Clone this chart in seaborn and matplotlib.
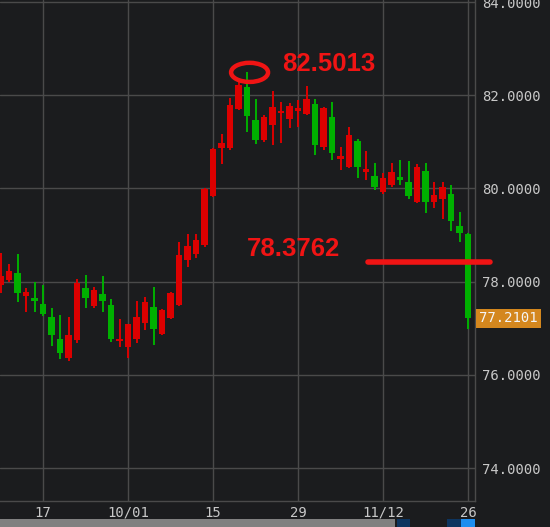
import pandas as pd
import seaborn as sns
import matplotlib.pyplot as plt
from matplotlib.patches import Ellipse, Rectangle

# daily candles, 2018-09-10 .. 2018-11-26 (weekdays)
dates = pd.bdate_range("2018-09-10", "2018-11-26")
opens = [77.93, 78.03, 78.19, 77.70, 77.64, 77.51, 77.23, 76.77, 76.35, 76.75,
         77.86, 77.48, 77.73, 77.50, 76.72, 76.60, 76.76, 77.12, 77.46, 76.88,
         77.21, 77.50, 78.46, 78.59, 78.79, 79.84, 80.86, 80.86, 81.70, 82.18,
         81.47, 81.04, 81.36, 81.61, 81.48, 81.67, 81.60, 81.81, 80.89, 81.54,
         80.64, 80.45, 81.02, 80.36, 80.27, 79.93, 80.07, 80.25, 80.14, 79.71,
         80.38, 79.71, 79.77, 79.88, 79.19, 79.02]
highs = [78.61, 78.38, 78.59, 77.86, 78.00, 77.93, 77.44, 77.28, 77.24, 78.05,
         78.14, 77.89, 78.11, 77.63, 77.19, 77.10, 77.59, 77.68, 77.89, 77.42,
         77.78, 78.86, 79.02, 79.02, 80.01, 80.87, 81.17, 81.93, 82.28, 82.5013,
         81.91, 81.58, 82.08, 81.86, 81.83, 81.90, 82.20, 81.91, 81.75, 81.86,
         80.89, 81.32, 81.07, 80.81, 80.54, 80.32, 80.54, 80.62, 80.59, 80.52,
         80.54, 80.14, 80.14, 80.07, 79.50, 79.05]
lows = [77.76, 77.99, 77.57, 77.35, 77.35, 77.26, 76.62, 76.34, 76.30, 76.68,
        77.43, 77.43, 77.35, 76.71, 76.59, 76.35, 76.68, 76.96, 76.64, 76.85,
        77.19, 77.48, 78.31, 78.51, 78.74, 79.82, 80.52, 80.82, 81.68, 81.22,
        80.95, 81.00, 80.93, 80.98, 81.29, 81.32, 81.58, 80.72, 80.82, 80.61,
        80.39, 80.43, 80.22, 80.18, 79.97, 79.89, 80.04, 80.07, 79.77, 79.69,
        79.48, 79.57, 79.34, 79.09, 78.86, 76.98]
closes = [78.12, 78.23, 77.76, 77.78, 77.59, 77.30, 76.85, 76.46, 76.85, 77.98,
          77.64, 77.82, 77.59, 76.76, 76.76, 77.08, 77.23, 77.57, 76.99, 77.39,
          77.75, 78.57, 78.76, 78.89, 79.98, 80.84, 80.98, 81.79, 82.22, 81.55,
          81.04, 81.53, 81.74, 81.65, 81.77, 81.72, 81.91, 80.93, 81.72, 80.77,
          80.68, 81.15, 80.45, 80.41, 80.02, 80.22, 80.36, 80.17, 79.84, 80.45,
          79.71, 79.86, 80.02, 79.29, 79.04, 77.2101]

tick_pos = [5, 15, 25, 35, 45, 55]
tick_labels = ["17", "10/01", "15", "29", "11/12", "26"]
y_ticks = [74, 76, 78, 80, 82, 84]
peak_value = 82.5013
mark_value = 78.3762
mark_level = 78.42
last_value = 77.2101

df = pd.DataFrame({"date": dates, "open": opens, "high": highs,
                   "low": lows, "close": closes})
df["x"] = range(len(df))
df["up"] = df["close"] >= df["open"]
df["bottom"] = df[["open", "close"]].min(axis=1)
df["height"] = (df["close"] - df["open"]).abs().clip(lower=0.045)

bg = "#1b1c1e"
sns.set_style("dark", {"axes.facecolor": bg, "figure.facecolor": bg,
                       "grid.color": "#4a4a4a"})
plt.rcParams["font.family"] = ["DejaVu Sans Mono"]

red, green = "#dc0000", "#00b000"
colors = [red if u else green for u in df["up"]]

fig = plt.figure(figsize=(5.5, 5.27), dpi=100)
ax = fig.add_axes([0, 26 / 527, 475 / 550, 501 / 527])

ax.vlines(df["x"], df["low"], df["high"], colors=colors, lw=1.4, zorder=2)
ax.bar(df["x"], df["height"], bottom=df["bottom"], width=0.8,
       color=colors, linewidth=0, zorder=3)

ax.set_xlim(-0.06, 55.82)
ax.set_ylim(73.292, 84.043)
ax.set_xticks(tick_pos)
ax.set_xticklabels(tick_labels)
ax.set_yticks(y_ticks)
ax.set_yticklabels([f"{v:.4f}" for v in y_ticks])
ax.yaxis.tick_right()
ax.grid(True, color="#4a4a4a", lw=1)
ax.set_axisbelow(True)
ax.tick_params(axis="x", length=0, pad=3.5, labelcolor="#c8c8c8", labelsize=10)
ax.tick_params(axis="y", length=3, width=1, color="#4a4a4a", pad=2,
               labelcolor="#c8c8c8", labelsize=10)
sns.despine(ax=ax, left=True, top=True, right=False, bottom=False)
for side in ["right", "bottom"]:
    ax.spines[side].set_color("#4a4a4a")
    ax.spines[side].set_linewidth(1)

# last price tag
ax.annotate(f"{last_value:.4f}", xy=(1, last_value),
            xycoords=("axes fraction", "data"), xytext=(3, 0),
            textcoords="offset points", va="center", ha="left",
            color="#f5f5f5", fontsize=10, annotation_clip=False,
            bbox=dict(boxstyle="square,pad=0.2", fc="#d4871e", ec="none"))

# hand-drawn style markers
ax.add_patch(Ellipse((29.3, 82.49), 4.35, 0.41, fill=False,
                     ec="#f01414", lw=3.2, zorder=5))
ax.plot([43.2, 57.6], [mark_level, mark_level], color="#f01414", lw=4,
        solid_capstyle="round", clip_on=False, zorder=5)
fig.text(282 / 550, 1 - 71 / 527, f"{peak_value:.4f}", color="#f01414",
         fontsize=18.5, fontweight="bold", family="Liberation Sans",
         va="baseline")
fig.text(247 / 550, 1 - 256 / 527, f"{mark_value:.4f}", color="#f01414",
         fontsize=18.5, fontweight="bold", family="Liberation Sans",
         va="baseline")

# scrollbar strip at the bottom
for x0, x1, c in [(0, 395, "#808080"), (397, 410, "#0d3560"),
                  (447, 461, "#0d3560"), (461, 475, "#1e8ef0")]:
    fig.add_artist(Rectangle((x0 / 550, 0), (x1 - x0) / 550, 8 / 527,
                             transform=fig.transFigure, color=c, lw=0))

fig.savefig("out.png", dpi=100, facecolor=bg)
